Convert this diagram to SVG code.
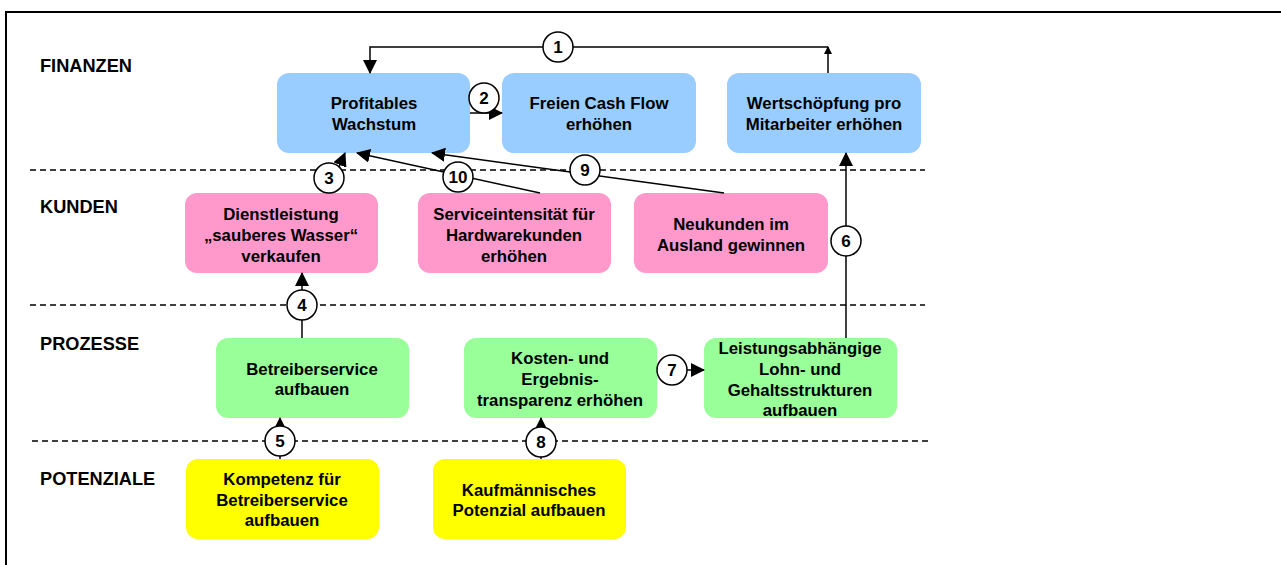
<svg xmlns="http://www.w3.org/2000/svg" width="1281" height="565" viewBox="0 0 1281 565">
<style>
text{font-family:"Liberation Sans",Arial,sans-serif;font-weight:bold;fill:#000}
.lbl{font-size:18.2px}
.nt{font-size:16.8px;text-anchor:middle}
.num{font-size:17px;text-anchor:middle}
.blue{fill:#99CCFF}
.pink{fill:#FF99CC}
.green{fill:#99FF99}
.yellow{fill:#FFFF00}
.dash{stroke:#000;stroke-width:1.6;stroke-dasharray:6 4;fill:none}
.con{stroke:#000;stroke-width:1.5;fill:none}
.circ{fill:#fff;stroke:#000;stroke-width:1.5}
</style>
<defs>
<marker id="ah" markerUnits="userSpaceOnUse" markerWidth="14" markerHeight="14" viewBox="0 0 14 14" refX="13" refY="7" orient="auto">
<path d="M0,0 L14,7 L0,14 Z" fill="#000"/>
</marker>
<marker id="ahs" markerUnits="userSpaceOnUse" markerWidth="8" markerHeight="8" viewBox="0 0 8 8" refX="7" refY="4" orient="auto">
<path d="M0,0 L8,4 L0,8 Z" fill="#000"/>
</marker>
</defs>
<rect width="1281" height="565" fill="#fff"/>
<g id="frame">
<path d="M6,565 L6,12 L1281,12" stroke="#000" stroke-width="2" fill="none"/>
</g>
<g id="separators">
<line class="dash" x1="30" y1="170" x2="925" y2="170"/>
<line class="dash" x1="30" y1="305" x2="925" y2="305"/>
<line class="dash" x1="32" y1="441" x2="928" y2="441"/>
</g>
<g id="labels">
<text class="lbl" x="40" y="72">FINANZEN</text>
<text class="lbl" x="40" y="213">KUNDEN</text>
<text class="lbl" x="40" y="350">PROZESSE</text>
<text class="lbl" x="40" y="485">POTENZIALE</text>
</g>
<g id="node-profitables">
<rect class="blue" x="277" y="73" width="193" height="80" rx="12"/>
<text class="nt" x="374" y="109">Profitables</text>
<text class="nt" x="374" y="130">Wachstum</text>
</g>
<g id="node-cashflow">
<rect class="blue" x="502" y="73" width="194" height="80" rx="12"/>
<text class="nt" x="599" y="109">Freien Cash Flow</text>
<text class="nt" x="599" y="130">erhöhen</text>
</g>
<g id="node-wertschoepfung">
<rect class="blue" x="727" y="73" width="194" height="80" rx="12"/>
<text class="nt" x="824" y="109">Wertschöpfung pro</text>
<text class="nt" x="824" y="130">Mitarbeiter erhöhen</text>
</g>
<g id="node-dienstleistung">
<rect class="pink" x="185" y="193" width="193" height="80" rx="12"/>
<text class="nt" x="281" y="220">Dienstleistung</text>
<text class="nt" x="281" y="241">„sauberes Wasser“</text>
<text class="nt" x="281" y="262">verkaufen</text>
</g>
<g id="node-serviceintensitaet">
<rect class="pink" x="418" y="193" width="193" height="80" rx="12"/>
<text class="nt" x="514" y="220">Serviceintensität für</text>
<text class="nt" x="514" y="241">Hardwarekunden</text>
<text class="nt" x="514" y="262">erhöhen</text>
</g>
<g id="node-neukunden">
<rect class="pink" x="634" y="193" width="194" height="80" rx="12"/>
<text class="nt" x="731" y="230">Neukunden im</text>
<text class="nt" x="731" y="251">Ausland gewinnen</text>
</g>
<g id="node-betreiberservice">
<rect class="green" x="216" y="338" width="193" height="80" rx="12"/>
<text class="nt" x="312" y="375">Betreiberservice</text>
<text class="nt" x="312" y="395">aufbauen</text>
</g>
<g id="node-kosten">
<rect class="green" x="464" y="338" width="193" height="80" rx="12"/>
<text class="nt" x="560" y="364">Kosten- und</text>
<text class="nt" x="560" y="385">Ergebnis-</text>
<text class="nt" x="560" y="406">transparenz erhöhen</text>
</g>
<g id="node-leistung">
<rect class="green" x="704" y="338" width="193" height="80" rx="12"/>
<text class="nt" x="800" y="354">Leistungsabhängige</text>
<text class="nt" x="800" y="375">Lohn- und</text>
<text class="nt" x="800" y="396">Gehaltsstrukturen</text>
<text class="nt" x="800" y="416">aufbauen</text>
</g>
<g id="node-kompetenz">
<rect class="yellow" x="186" y="459" width="193" height="80" rx="12"/>
<text class="nt" x="282" y="485">Kompetenz für</text>
<text class="nt" x="282" y="506">Betreiberservice</text>
<text class="nt" x="282" y="526">aufbauen</text>
</g>
<g id="node-kaufmaennisch">
<rect class="yellow" x="433" y="459" width="193" height="80" rx="12"/>
<text class="nt" x="529" y="496">Kaufmännisches</text>
<text class="nt" x="529" y="516">Potenzial aufbauen</text>
</g>
<g id="connectors">
<path class="con" d="M828,73 L828,47" marker-end="url(#ahs)"/>
<path class="con" d="M828,47 L370,47 L370,73" marker-end="url(#ah)"/>
<path class="con" d="M470,113 L502,113" marker-end="url(#ah)"/>
<path class="con" d="M328,193 L345,153" marker-end="url(#ah)"/>
<path class="con" d="M540,193 L357,153" marker-end="url(#ah)"/>
<path class="con" d="M724,193 L432,153" marker-end="url(#ah)"/>
<path class="con" d="M846,338 L846,153" marker-end="url(#ah)"/>
<path class="con" d="M302,338 L302,273" marker-end="url(#ah)"/>
<path class="con" d="M657,370 L704,370" marker-end="url(#ah)"/>
<path class="con" d="M280,459 L280,418" marker-end="url(#ah)"/>
<path class="con" d="M541,459 L541,418" marker-end="url(#ah)"/>
<g id="badges">
<circle class="circ" cx="558" cy="47" r="15"/><text class="num" x="558" y="53">1</text>
<circle class="circ" cx="484" cy="98" r="15"/><text class="num" x="484" y="104">2</text>
<circle class="circ" cx="329" cy="178" r="15"/><text class="num" x="329" y="184">3</text>
<circle class="circ" cx="302" cy="305" r="15"/><text class="num" x="302" y="311">4</text>
<circle class="circ" cx="280" cy="441" r="15"/><text class="num" x="280" y="447">5</text>
<circle class="circ" cx="846" cy="241" r="15"/><text class="num" x="846" y="247">6</text>
<circle class="circ" cx="672" cy="370" r="15"/><text class="num" x="672" y="376">7</text>
<circle class="circ" cx="541" cy="442" r="15"/><text class="num" x="541" y="448">8</text>
<circle class="circ" cx="585" cy="170" r="15"/><text class="num" x="585" y="176">9</text>
<circle class="circ" cx="458" cy="177" r="15"/><text class="num" x="458" y="183">10</text>
</g>
</g>
</svg>
